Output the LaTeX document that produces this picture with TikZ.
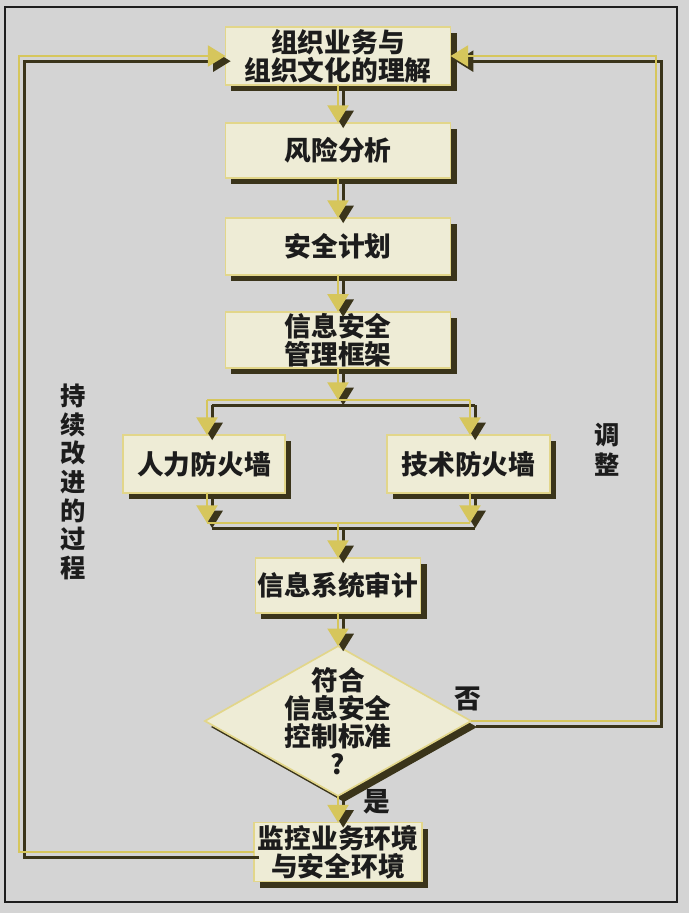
\documentclass[tikz,border=0pt]{standalone}
\usepackage{fontspec}
\setmainfont{Noto Sans CJK SC}
\usetikzlibrary{shapes.geometric,arrows.meta,shadows}

\definecolor{bgc}{RGB}{212,212,212}
\definecolor{framec}{RGB}{30,30,30}
\definecolor{boxfill}{RGB}{238,236,214}
\definecolor{boxline}{RGB}{226,214,138}
\definecolor{shadowc}{RGB}{58,52,26}
\definecolor{lineyel}{RGB}{214,198,92}
\definecolor{textc}{RGB}{28,28,28}

\newcommand{\cjkfont}{\bfseries\fontsize{19}{19.8}\selectfont}

\begin{document}
\begin{tikzpicture}[
    x=0.025cm, y=-0.025cm,
    box/.style={rectangle, draw=boxline, fill=boxfill, line width=1.2pt, minimum height=1.45cm,
        inner sep=1pt, outer sep=0pt, align=center, font=\cjkfont, text=textc,
        general shadow={fill=shadowc, shadow xshift=0.15cm, shadow yshift=-0.15cm}},
    decision/.style={diamond, draw=boxline, fill=boxfill, line width=1.2pt, minimum width=6.65cm,
        minimum height=3.3cm, inner sep=-0.4cm, outer sep=0pt, align=center, font=\cjkfont, text=textc,
        general shadow={fill=shadowc, shadow xshift=0.15cm, shadow yshift=-0.15cm}},
    link/.style={draw=lineyel, line width=2pt,
        preaction={draw=shadowc, line width=2pt, transform canvas={shift={(0.13cm,-0.13cm)}}}},
    flow/.style={link, -{Triangle[width=0.52cm,length=0.44cm]}},
    lbl/.style={font=\cjkfont, text=textc},
    sidetxt/.style={align=center, text=textc, inner sep=0pt}
]
\useasboundingbox (0,0) rectangle (689,913);

% background and frame
\fill[bgc] (0,0) rectangle (689,913);
\draw[framec, line width=1pt] (5,7) rectangle (677,902);

% main column
\node[box, minimum width=5.625cm] (understand) at (338,56) {组织业务与\\组织文化的理解};
\node[box, minimum width=5.625cm, minimum height=1.375cm] (riskana) at (338,150.5) {风险分析};
\node[box, minimum width=5.625cm, minimum height=1.425cm] (secplan) at (338,246.5) {安全计划};
\node[box, minimum width=5.625cm, minimum height=1.4cm] (framework) at (338,340) {信息安全\\管理框架};

% two firewalls
\node[box, minimum width=4.05cm] (humanfw) at (204,464) {人力防火墙};
\node[box, minimum width=4.075cm] (techfw) at (468.5,464) {技术防火墙};

% audit, check and monitor
\node[box, minimum width=4.125cm, minimum height=1.375cm] (audit) at (338,585.5) {信息系统审计};
\node[decision] (check) at (338,721) {符合\\信息安全\\控制标准\\?};
\node[box, minimum width=4.2cm, minimum height=1.475cm] (monitor) at (338,852) {监控业务环境\\与安全环境};

% labels
\node[lbl] (no) at (468,699) {否};
\node[lbl] (yes) at (377,802) {是};
\node[sidetxt, font={\bfseries\fontsize{18}{20.4}\selectfont}] (keepimprove) at (73,482) {持\\续\\改\\进\\的\\过\\程};
\node[sidetxt, font={\bfseries\fontsize{18}{21.3}\selectfont}] (adjust) at (607,450) {调\\整};

% split and merge points
\coordinate (split) at (338,400);
\coordinate (splitL) at (207,400);
\coordinate (splitR) at (470,400);
\coordinate (merge) at (338,523);
\coordinate (mergeL) at (207,523);
\coordinate (mergeR) at (470,523);
\coordinate (loopL) at (19,56);
\coordinate (loopR) at (656,56);

% arrows down the column
\draw[flow] (understand) -- (riskana);
\draw[flow] (riskana) -- (secplan);
\draw[flow] (secplan) -- (framework);
\draw[flow] (framework) -- (split);
\draw[link] (splitL) -- (splitR);
\draw[flow] (splitL) -- (splitL |- humanfw.north);
\draw[flow] (splitR) -- (splitR |- techfw.north);
\draw[flow] (humanfw.south -| mergeL) -- (mergeL);
\draw[flow] (techfw.south -| mergeR) -- (mergeR);
\draw[link] (mergeL) -- (mergeR);
\draw[flow] (merge) -- (audit);
\draw[flow] (audit) -- (check);
\draw[flow] (check) -- (monitor);

% feedback loops
\draw[flow] (monitor.west) -| (loopL) -- (understand.west);
\draw[flow] (check.east) -| (loopR) -- (understand.east);

\end{tikzpicture}
\end{document}
